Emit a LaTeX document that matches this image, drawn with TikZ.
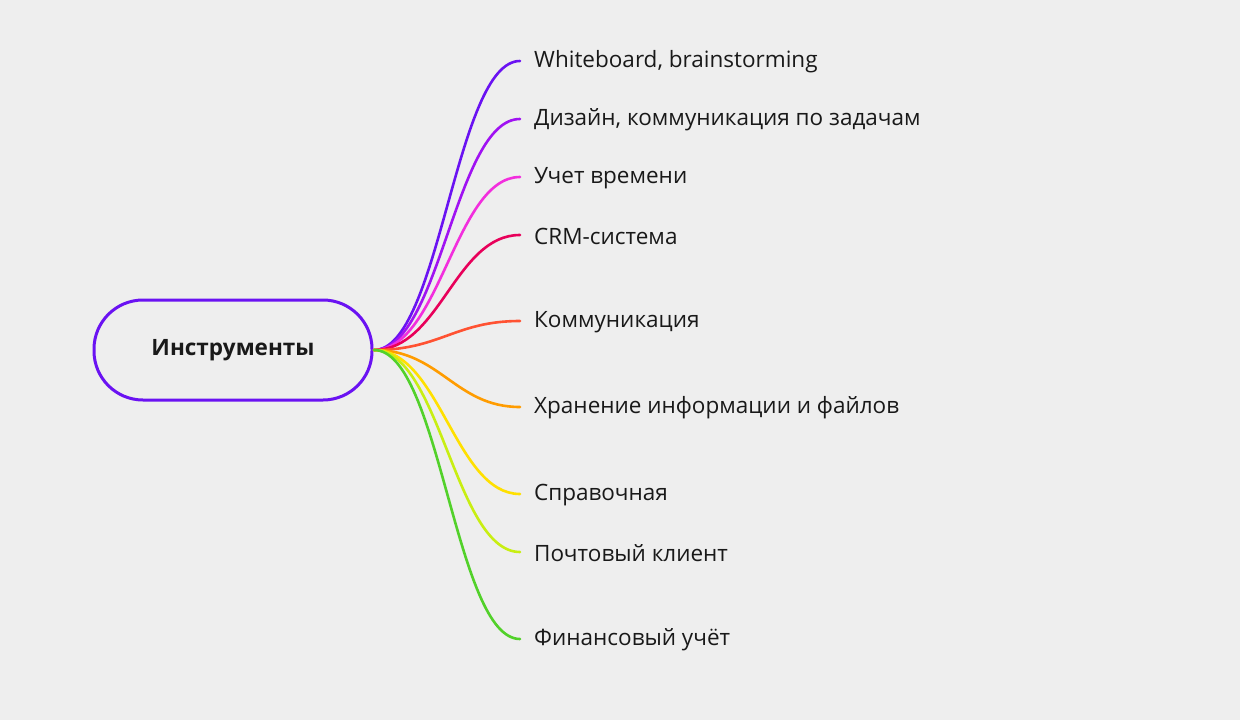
\documentclass[tikz,border=0pt]{standalone}
\usepackage{fontspec}
\setmainfont{Open Sans}
\begin{document}
\begin{tikzpicture}[x=1pt,y=-1pt,
  br/.style={line width=2.6pt},
  lbl/.style={anchor=west,inner sep=0pt,font=\fontsize{22.5}{26}\selectfont,text=black!90}]
\fill[black!6.5] (0,0) rectangle (1240,720);
\useasboundingbox (0,0) rectangle (1240,720);
\definecolor{c1}{HTML}{6A12F2}\definecolor{c2}{HTML}{A012F2}\definecolor{c3}{HTML}{F22EDD}
\definecolor{c4}{HTML}{E8005A}\definecolor{c5}{HTML}{FF5232}\definecolor{c6}{HTML}{FF9C00}
\definecolor{c7}{HTML}{FFE000}\definecolor{c8}{HTML}{C8EE12}\definecolor{c9}{HTML}{52D12A}
\node[draw=c1,line width=3pt,rounded corners=49pt,minimum width=278pt,minimum height=100pt,fill=black!6.5,font=\fontsize{22.5}{26}\selectfont\bfseries,text=black!90] (root) at (233,350) {Инструменты};
\coordinate (s) at (374,350);
\foreach \i/\y/\t in {1/61/{Whiteboard, brainstorming},2/119/{Дизайн, коммуникация по задачам},3/177/{Учет времени},4/235/{CRM-система},5/321/{Коммуникация},6/407/{Хранение информации и файлов},7/494/{Справочная},8/552/{Почтовый клиент},9/639/{Финансовый учёт}}{
  \coordinate (e\i) at (520,\y);
  \node[lbl] (t\i) at (534,\y+1) {\t};
  \draw[br,c\i,line cap=round] (s) .. controls (440,350) and (455,\y) .. (e\i);
}
\end{tikzpicture}
\end{document}
